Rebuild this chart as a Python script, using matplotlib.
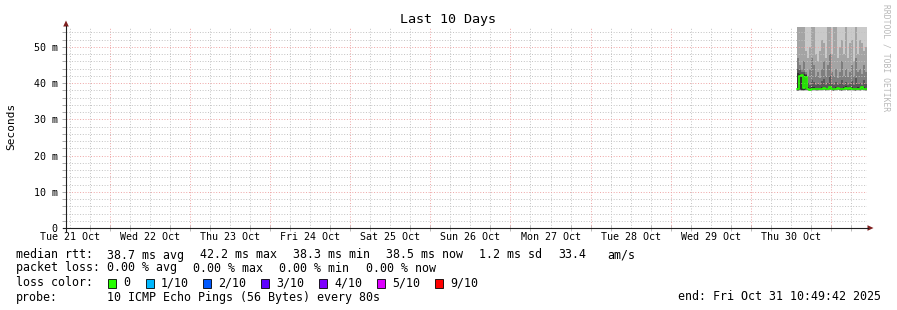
import numpy as np
import matplotlib
matplotlib.use("Agg")
import matplotlib.pyplot as plt
import matplotlib.dates as mdates
from matplotlib.patches import Rectangle, Polygon
from matplotlib.lines import Line2D
import pandas as pd

W, H = 897, 310
MONO = "DejaVu Sans Mono"

# ---------------- data ----------------
title = "Last 10 Days"
end_time = pd.Timestamp("2025-10-31 10:49:42")
data_start = pd.Timestamp("2025-10-30 13:48:00")
bin_minutes = 36

day_labels = ["Tue 21 Oct", "Wed 22 Oct", "Thu 23 Oct", "Fri 24 Oct", "Sat 25 Oct",
              "Sun 26 Oct", "Mon 27 Oct", "Tue 28 Oct", "Wed 29 Oct", "Thu 30 Oct"]
y_ticks = [0, 10, 20, 30, 40, 50]
y_tick_labels = ["0", "10 m", "20 m", "30 m", "40 m", "50 m"]

# sorted ping rtts per time bin (ms)
ping1 = [37.7, 37.9, 37.8, 37.8, 37.9, 37.8, 37.7, 37.8, 37.9, 37.8, 37.8, 37.9, 37.9, 38.0, 37.8, 37.9, 38.0, 37.8,
         37.7, 37.9, 38.0, 37.8, 37.7, 37.9, 38.0, 37.8, 37.9, 37.9, 37.8, 37.7, 37.9, 37.8, 38.0, 37.9, 37.8]
ping2 = [37.8, 38.0, 37.9, 37.9, 38.0, 37.9, 37.8, 37.9, 38.0, 37.9, 37.9, 38.0, 38.0, 38.1, 37.9, 38.0, 38.1, 37.9,
         37.8, 38.0, 38.1, 37.9, 37.8, 38.0, 38.1, 37.9, 38.0, 38.0, 37.9, 37.8, 38.0, 37.9, 38.1, 38.0, 37.9]
ping3 = [37.9, 38.1, 38.0, 38.0, 38.1, 38.0, 37.9, 38.0, 38.1, 38.0, 38.0, 38.1, 38.1, 38.2, 38.0, 38.1, 38.2, 38.0,
         37.9, 38.1, 38.2, 38.0, 37.9, 38.1, 38.2, 38.0, 38.1, 38.1, 38.0, 37.9, 38.1, 38.0, 38.2, 38.1, 38.0]
ping4 = [38.0, 38.2, 38.1, 38.1, 38.2, 38.1, 38.0, 38.1, 38.2, 38.1, 38.1, 38.2, 38.2, 38.3, 38.1, 38.2, 38.3, 38.1,
         38.0, 38.2, 38.3, 38.1, 38.0, 38.2, 38.3, 38.1, 38.2, 38.2, 38.1, 38.0, 38.2, 38.1, 38.3, 38.2, 38.1]
ping5 = [38.1, 38.3, 38.2, 38.2, 38.3, 38.2, 38.1, 38.2, 38.3, 38.2, 38.2, 38.3, 38.3, 38.4, 38.2, 38.3, 38.5, 38.2,
         38.1, 38.3, 38.4, 38.2, 38.1, 38.3, 38.4, 38.2, 38.3, 38.3, 38.2, 38.1, 38.3, 38.2, 38.4, 38.3, 38.2]
ping6 = [42.8, 42.6, 42.5, 42.4, 42.3, 38.8, 38.6, 38.8, 38.9, 38.7, 38.6, 38.7, 38.9, 39.0, 38.6, 38.7, 39.3, 38.7,
         38.6, 38.9, 39.0, 38.7, 38.6, 38.9, 39.1, 38.7, 39.0, 38.9, 38.7, 38.6, 38.9, 38.7, 39.2, 38.9, 38.7]
ping7 = [44.0, 43.5, 43.0, 43.0, 42.5, 40.0, 39.6, 41.0, 40.2, 39.5, 39.8, 39.4, 40.5, 41.2, 39.6, 40.0, 42.0, 39.8,
         39.5, 40.3, 39.4, 39.9, 41.0, 39.6, 40.4, 39.5, 39.8, 40.6, 39.5, 41.5, 39.7, 40.0, 39.6, 40.8, 39.7]
ping8 = [47.0, 45.0, 44.0, 46.0, 43.0, 42.0, 44.0, 47.0, 45.0, 42.0, 43.0, 41.5, 44.0, 46.0, 42.0, 45.0, 48.0, 43.0,
         42.0, 44.0, 41.5, 43.0, 46.0, 42.0, 44.0, 41.8, 43.0, 45.0, 42.0, 47.0, 43.0, 44.0, 42.5, 45.0, 43.0]
ping9 = [60, 62, 58, 57, 49, 47, 50, 60, 58, 48, 46, 49, 52, 51, 47, 58, 60, 48, 59, 57, 47, 50, 52, 48, 59, 47, 51,
         52, 46, 60, 48, 52, 51, 49, 50]
ping10 = [95, 90, 80, 88, 70, 75, 85, 78, 92, 66, 80, 72, 88, 75, 69, 82, 90, 77, 71, 86, 79, 68, 93, 74, 81, 70, 87,
          76, 84, 72, 78, 89, 73, 80, 85]
median_rtt = [38.4, 42.0, 42.2, 38.6, 41.6, 38.3, 38.2, 38.3, 38.5, 38.4, 38.3, 38.4, 38.5, 38.6, 38.3, 38.4, 38.9,
              38.4, 38.3, 38.5, 38.6, 38.4, 38.3, 38.5, 38.7, 38.4, 38.6, 38.5, 38.4, 38.3, 38.5, 38.4, 38.8, 38.5, 38.4]

smoke_colors = ["#cacaca", "#a4a4a4", "#7e7e7e", "#585858", "#323232"]
loss_labels = ["0", "1/10", "2/10", "3/10", "4/10", "5/10", "9/10"]
loss_colors = ["#26ff00", "#00b8ff", "#0059ff", "#5e00ff", "#7e00ff", "#dd00ff", "#ff0000"]

rtt_stats = ["38.7 ms avg", "42.2 ms max", "38.3 ms min", "38.5 ms now", "1.2 ms sd", "33.4", "am/s"]
loss_stats = ["0.00 % avg", "0.00 % max", "0.00 % min", "0.00 % now"]
probe_text = "10 ICMP Echo Pings (56 Bytes) every 80s"

# ---------------- figure ----------------
fig = plt.figure(figsize=(W / 100, H / 100), dpi=100)
fig.patch.set_facecolor("white")


def fx(px):
    return px / W


def fy(py):
    return 1 - py / H


ax = fig.add_axes([fx(66), fy(228), 801 / W, 201 / H])
ax.set_facecolor("white")
start_time = end_time - pd.Timedelta(days=10)
x0, x1 = mdates.date2num(start_time), mdates.date2num(end_time)
ax.set_xlim(x0, x1)
ax.set_ylim(0, 55.5)
for s in ax.spines.values():
    s.set_visible(False)

n = len(median_rtt)
t_edges = mdates.date2num(pd.date_range(data_start, periods=n + 1, freq=f"{bin_minutes}min"))


def stepv(v):
    v = np.asarray(v, float)
    return np.append(v, v[-1])


pings = [ping1, ping2, ping3, ping4, ping5, ping6, ping7, ping8, ping9, ping10]
for i in range(5):
    ax.fill_between(t_edges, stepv(pings[i]), stepv(pings[9 - i]), step="post",
                    color=smoke_colors[i], lw=0, zorder=2)
ax.step(t_edges, stepv(median_rtt), where="post", color=loss_colors[0], lw=1.2, zorder=6)

# grid
GRID = "#c2c2c2"
MGRID = "#eea4a4"
grid_times = pd.date_range(start_time.ceil("6h"), end_time, freq="6h")
for t in grid_times:
    c = MGRID if t.hour == 0 else GRID
    ax.axvline(mdates.date2num(t), color=c, lw=0.7, ls=(0, (1, 1.8)), zorder=4)
for v in np.arange(2, 55.5, 2):
    c = MGRID if v % 10 == 0 else GRID
    ax.axhline(v, color=c, lw=0.7, ls=(0, (1, 1.8)), zorder=4)

# ticks
noon_times = pd.date_range(start_time.ceil("D") - pd.Timedelta(hours=12), end_time, freq="D")
noon_times = [t for t in noon_times if t >= start_time]
ax.set_xticks(mdates.date2num(noon_times))
ax.set_xticklabels(day_labels[:len(noon_times)], fontfamily=MONO, fontsize=7.2)
ax.tick_params(axis="x", which="major", length=0, pad=3.2)
ax.set_xticks(mdates.date2num(grid_times), minor=True)
ax.tick_params(axis="x", which="minor", length=4, direction="inout", width=0.6, color="#b0b0b0")
for tk, t in zip(ax.xaxis.get_minor_ticks(), grid_times):
    if t.hour == 0:
        tk.tick1line.set_color("#e89090")

ax.set_yticks(y_ticks)
ax.set_yticklabels(y_tick_labels, fontfamily=MONO, fontsize=7.2)
ax.set_yticks(np.arange(2, 55.5, 2), minor=True)
ax.tick_params(axis="y", which="both", length=3, direction="out", width=0.6, color="#a0a0a0", pad=3)

# axes lines and arrows
AXC = "#1f1f1f"
ARROW = "#7f1f1f"
fig.add_artist(Line2D([fx(63), fx(868)], [fy(228), fy(228)], color=AXC, lw=0.8))
fig.add_artist(Line2D([fx(66), fx(66)], [fy(231), fy(26)], color=AXC, lw=0.8))
fig.add_artist(Polygon([[fx(66), fy(20.5)], [fx(63.2), fy(26.5)], [fx(68.8), fy(26.5)]],
                       closed=True, color=ARROW, lw=0))
fig.add_artist(Polygon([[fx(873.5), fy(228)], [fx(867.5), fy(225.2)], [fx(867.5), fy(230.8)]],
                       closed=True, color=ARROW, lw=0))

# titles / labels
fig.text(fx(448), fy(19), title, ha="center", va="center", fontfamily=MONO, fontsize=9.6)
fig.text(fx(11), fy(126), "Seconds", ha="center", va="center", rotation=90, fontfamily=MONO, fontsize=8)
fig.text(fx(886), fy(4), "RRDTOOL / TOBI OETIKER", ha="center", va="top", rotation=-90,
         fontfamily=MONO, fontsize=5.8, color="#b8b8b8")

# legend
FS = 8.35
rows = [255, 268, 283, 297]
fig.text(fx(16), fy(rows[0]), "median rtt:", va="center", fontfamily=MONO, fontsize=FS)
for xp, s in zip([107, 200, 293, 386, 479, 558, 607], rtt_stats):
    fig.text(fx(xp), fy(rows[0]), s, va="center", fontfamily=MONO, fontsize=FS)
fig.text(fx(16), fy(rows[1]), "packet loss:", va="center", fontfamily=MONO, fontsize=FS)
for xp, s in zip([107, 193, 279, 366], loss_stats):
    fig.text(fx(xp), fy(rows[1]), s, va="center", fontfamily=MONO, fontsize=FS)
fig.text(fx(16), fy(rows[2]), "loss color:", va="center", fontfamily=MONO, fontsize=FS)
for xp, lab, col in zip([108, 146, 203, 261, 319, 377, 435], loss_labels, loss_colors):
    fig.add_artist(Rectangle((fx(xp), fy(rows[2] + 4.5)), 8 / W, 9 / H, facecolor=col,
                             edgecolor="black", lw=0.6))
    fig.text(fx(xp + 15), fy(rows[2]), lab, va="center", fontfamily=MONO, fontsize=FS)
fig.text(fx(16), fy(rows[3]), "probe:", va="center", fontfamily=MONO, fontsize=FS)
fig.text(fx(107), fy(rows[3]), probe_text, va="center", fontfamily=MONO, fontsize=FS)
fig.text(fx(881), fy(rows[3]), "end: " + end_time.strftime("%a %b %d %H:%M:%S %Y"), ha="right",
         va="center", fontfamily=MONO, fontsize=FS)

fig.savefig("out.png", dpi=100, facecolor="white")
